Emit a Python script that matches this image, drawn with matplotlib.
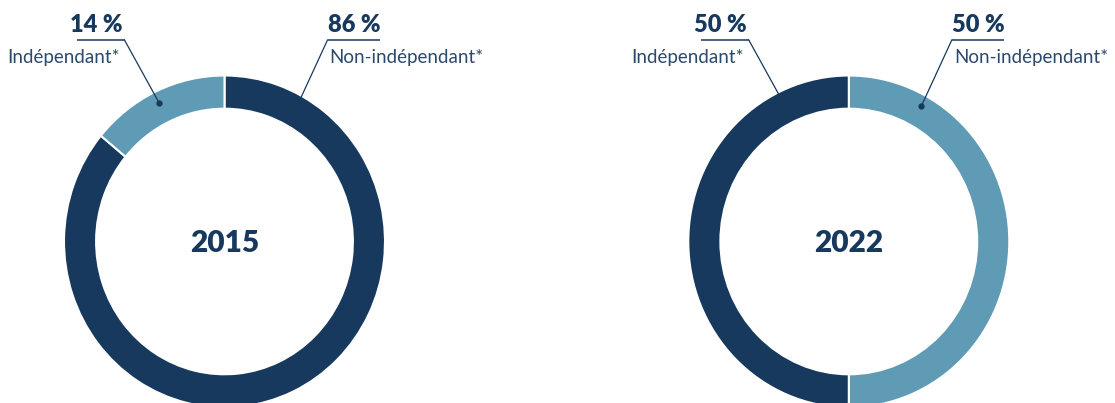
import numpy as np
import matplotlib
matplotlib.use("Agg")
import matplotlib.pyplot as plt

# data
years = ["2015", "2022"]
categories = ["Non-indépendant*", "Indépendant*"]
shares_2015 = [86, 14]
shares_2022 = [50, 50]

DARK = "#17395d"
LIGHT = "#609bb6"
TEXT = "#2b496c"

W, H = 1115, 403
plt.rcParams["font.family"] = ["Lato", "DejaVu Sans"]

fig = plt.figure(figsize=(W / 100, H / 100), dpi=100)

# donut placement in pixels: centre x, centre y, radius x, radius y
donuts = [
    (224.5, 241.5, 160.5, 166.0, shares_2015, [DARK, LIGHT]),
    (848.8, 241.5, 160.5, 166.0, shares_2022, [LIGHT, DARK]),
]

ov = fig.add_axes([0, 0, 1, 1], zorder=5)
ov.set_xlim(0, W)
ov.set_ylim(H, 0)
ov.axis("off")

# label layout relative to donut centre: (underline x0, x1, anchor angle, side)
label_layout = {
    "Non-indépendant*": (103, 155, 61, "right"),
    "Indépendant*": (-148, -100, 116, "left"),
}

for year, (cx, cy, rx, ry, shares, cols) in zip(years, donuts):
    ax = fig.add_axes([(cx - rx) / W, (H - cy - ry) / H, 2 * rx / W, 2 * ry / H])
    ax.pie(shares, colors=cols, radius=1, startangle=90, counterclock=False,
           wedgeprops=dict(width=0.2, edgecolor="white", linewidth=1.5))
    ax.set_xlim(-1, 1)
    ax.set_ylim(-1, 1)
    ax.set_aspect("auto")
    ax.axis("off")

    ov.text(cx, cy + 1.5, year, ha="center", va="center", fontsize=21.5,
            fontweight="heavy", color=DARK)

    for cat, val in zip(categories, shares):
        x0, x1, ang, side = label_layout[cat]
        # anchor point on the ring, in pixel coords of the overlay
        a = np.deg2rad(ang)
        pt = ax.transData.transform((0.93 * np.cos(a), 0.93 * np.sin(a)))
        px, py = ov.transData.inverted().transform(pt)
        ov.plot([cx + x0, cx + x1], [40, 40], color=DARK, lw=1.1,
                solid_capstyle="butt")
        start = cx + x1 if side == "left" else cx + x0
        ov.plot([start, px], [40, py], color=DARK, lw=0.9)
        ov.plot(px, py, "o", color=DARK, ms=3.5)
        if side == "left":
            ov.text(cx + x1 - 2, 32, f"{val} %", ha="right", va="baseline",
                    fontsize=17, fontweight="heavy", color=DARK)
            ov.text(cx - 105, 63, cat, ha="right", va="baseline",
                    fontsize=13.5, color=TEXT)
        else:
            ov.text(cx + x0, 32, f"{val} %", ha="left", va="baseline",
                    fontsize=17, fontweight="heavy", color=DARK)
            ov.text(cx + 105, 63, cat, ha="left", va="baseline",
                    fontsize=13.5, color=TEXT)

fig.savefig("out.png", dpi=100)
